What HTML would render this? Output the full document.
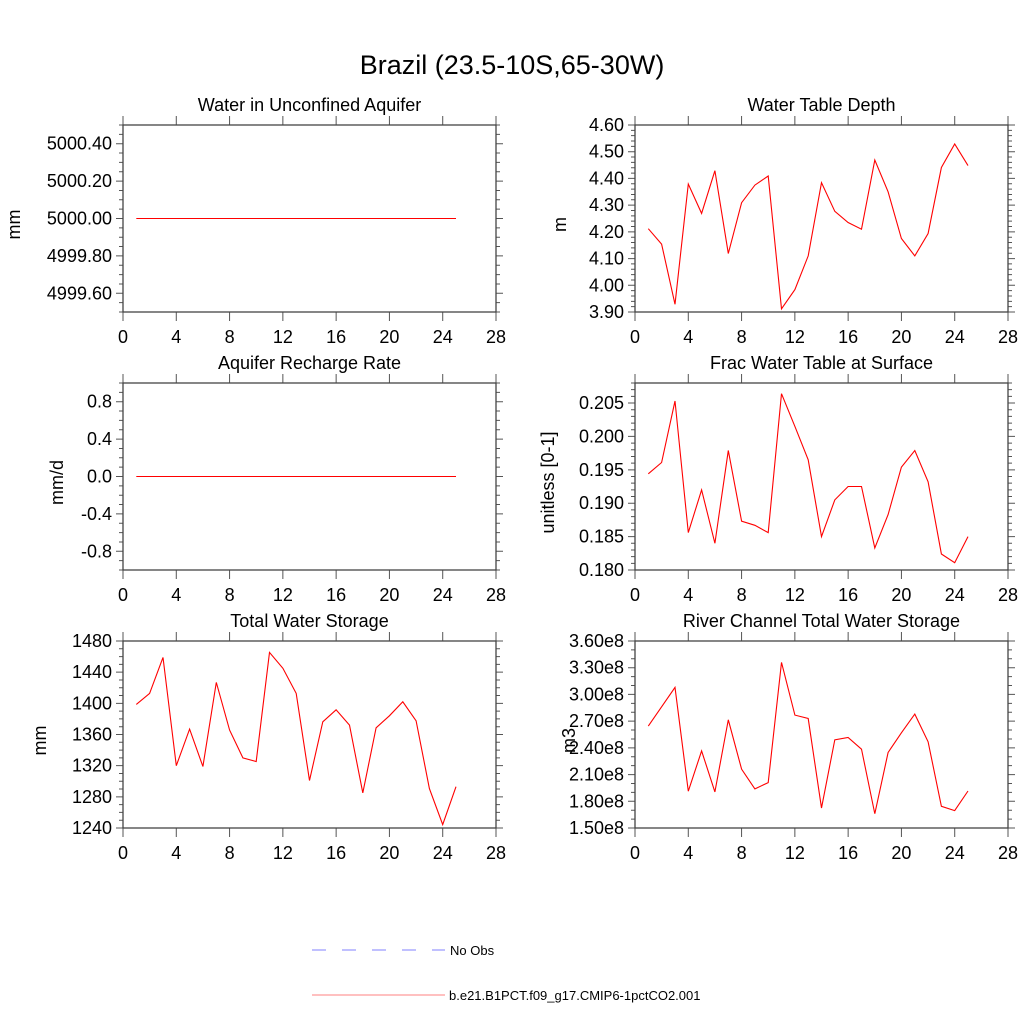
<!DOCTYPE html>
<html><head><meta charset="utf-8"><style>
html,body{margin:0;padding:0;background:#fff;}
svg{display:block;font-family:"Liberation Sans",Arial,sans-serif;}
</style></head><body>
<svg id="fig" width="1024" height="1024" viewBox="0 0 1024 1024" xmlns="http://www.w3.org/2000/svg">
<rect width="1024" height="1024" fill="#fff"/>
<text x="512" y="74" font-size="27" text-anchor="middle" fill="#000">Brazil (23.5-10S,65-30W)</text>
<g>
<line x1="312" y1="950" x2="445" y2="950" stroke="#8080ff" stroke-width="1" stroke-dasharray="14,16"/>
<text x="450" y="955" font-size="13" fill="#000">No Obs</text>
<line x1="312" y1="995" x2="445" y2="995" stroke="#ff8080" stroke-width="1"/>
<text x="449" y="1000" font-size="13" fill="#000">b.e21.B1PCT.f09_g17.CMIP6-1pctCO2.001</text>
</g>
</svg>
<script>
const years = [1,2,3,4,5,6,7,8,9,10,11,12,13,14,15,16,17,18,19,20,21,22,23,24,25];
const xTicks = [0,4,8,12,16,20,24,28];
const aquiferWater = [5000,5000,5000,5000,5000,5000,5000,5000,5000,5000,5000,5000,5000,5000,5000,5000,5000,5000,5000,5000,5000,5000,5000,5000,5000];
const aquiferTicks = [4999.6,4999.8,5000.0,5000.2,5000.4];
const aquiferLabels = ["4999.60","4999.80","5000.00","5000.20","5000.40"];
const waterTableDepth = [4.212,4.154,3.929,4.379,4.269,4.429,4.119,4.309,4.375,4.409,3.912,3.984,4.11,4.384,4.277,4.235,4.21,4.469,4.35,4.175,4.11,4.194,4.441,4.529,4.448];
const wtdTicks = [3.9,4.0,4.1,4.2,4.3,4.4,4.5,4.6];
const wtdLabels = ["3.90","4.00","4.10","4.20","4.30","4.40","4.50","4.60"];
const rechargeRate = [0,0,0,0,0,0,0,0,0,0,0,0,0,0,0,0,0,0,0,0,0,0,0,0,0];
const rechargeTicks = [-0.8,-0.4,0.0,0.4,0.8];
const rechargeLabels = ["-0.8","-0.4","0.0","0.4","0.8"];
const fracWaterTable = [0.1944,0.1961,0.2053,0.1856,0.192,0.184,0.1979,0.1873,0.1867,0.1856,0.2064,0.2015,0.1965,0.185,0.1905,0.1925,0.1925,0.1833,0.1883,0.1954,0.1979,0.1932,0.1824,0.1811,0.185];
const fracTicks = [0.180,0.185,0.190,0.195,0.200,0.205];
const fracLabels = ["0.180","0.185","0.190","0.195","0.200","0.205"];
const totalWaterStorage = [1398.6,1412.7,1459,1320,1366.9,1318.9,1426.9,1365.6,1330,1325.3,1465.4,1444.9,1412.7,1300.9,1376.3,1391.7,1372,1285,1368.6,1384,1402,1377.6,1290.6,1244.3,1293];
const twsTicks = [1240,1280,1320,1360,1400,1440,1480];
const twsLabels = ["1240","1280","1320","1360","1400","1440","1480"];
const riverStorage = [2.644,2.861,3.079,1.913,2.366,1.905,2.715,2.16,1.939,2.01,3.36,2.768,2.73,1.725,2.49,2.516,2.385,1.661,2.348,2.569,2.779,2.468,1.744,1.695,1.916];
const riverTicks = [1.5,1.8,2.1,2.4,2.7,3.0,3.3,3.6];
const riverLabels = ["1.50e8","1.80e8","2.10e8","2.40e8","2.70e8","3.00e8","3.30e8","3.60e8"];

const NS = "http://www.w3.org/2000/svg";
const svg = document.getElementById('fig');
function mk(tag, attrs, parent){
  const e = document.createElementNS(NS, tag);
  for (const k in attrs) e.setAttribute(k, attrs[k]);
  parent.appendChild(e);
  return e;
}
const panels = [
  {name:'water-in-unconfined-aquifer', title:'Water in Unconfined Aquifer', unit:'mm', x0:123, y0:125, data:aquiferWater, ymin:4999.5, ymax:5000.5, ticks:aquiferTicks, labels:aquiferLabels, minor:0.05, ulx:14},
  {name:'water-table-depth', title:'Water Table Depth', unit:'m', x0:635, y0:125, data:waterTableDepth, ymin:3.9, ymax:4.6, ticks:wtdTicks, labels:wtdLabels, minor:0.02, ulx:560},
  {name:'aquifer-recharge-rate', title:'Aquifer Recharge Rate', unit:'mm/d', x0:123, y0:383, data:rechargeRate, ymin:-1, ymax:1, ticks:rechargeTicks, labels:rechargeLabels, minor:0.1, ulx:57},
  {name:'frac-water-table-at-surface', title:'Frac Water Table at Surface', unit:'unitless [0-1]', x0:635, y0:383, data:fracWaterTable, ymin:0.18, ymax:0.208, ticks:fracTicks, labels:fracLabels, minor:0.001, ulx:548},
  {name:'total-water-storage', title:'Total Water Storage', unit:'mm', x0:123, y0:641, data:totalWaterStorage, ymin:1240, ymax:1480, ticks:twsTicks, labels:twsLabels, minor:10, ulx:40},
  {name:'river-channel-total-water-storage', title:'River Channel Total Water Storage', unit:'m3', x0:635, y0:641, data:riverStorage, ymin:1.5, ymax:3.6, ticks:riverTicks, labels:riverLabels, minor:0.1, ulx:569}
];
const W = 373, H = 187;
panels.forEach(p => {
  const g = mk('g', {}, svg);
  
  
  const sx = v => p.x0 + (v - 0) / 28 * W;
  const sy = v => p.y0 + H - (v - p.ymin) / (p.ymax - p.ymin) * H;
  const t = mk('text', {x: p.x0 + W/2, y: p.y0 - 14, 'font-size': 18, 'text-anchor': 'middle', fill: '#000'}, g);
  t.textContent = p.title;
  
  
  const u = mk('text', {x: p.ulx, y: p.y0 + H/2, 'font-size': 18, 'text-anchor': 'middle', fill: '#000', transform: 'rotate(-90 ' + (p.ulx+6) + ' ' + (p.y0 + H/2) + ')'}, g);
  u.textContent = p.unit;
  
  
  let path = '';
  // minor y ticks
  const n = Math.round((p.ymax - p.ymin) / p.minor);
  for (let i = 0; i <= n; i++) {
    const yy = sy(p.ymin + i * p.minor);
    path += 'M' + (p.x0 - 4) + ' ' + yy + 'H' + p.x0 + 'M' + (p.x0 + W) + ' ' + yy + 'H' + (p.x0 + W + 4);
  }
  p.ticks.forEach((v, i) => {
    const yy = sy(v);
    path += 'M' + (p.x0 - 7) + ' ' + yy + 'H' + p.x0 + 'M' + (p.x0 + W) + ' ' + yy + 'H' + (p.x0 + W + 7);
    const lb = mk('text', {x: p.x0 - 11, y: yy + 6, 'font-size': 18, 'text-anchor': 'end', fill: '#000'}, g);
    lb.textContent = p.labels[i];
    
    
  });
  xTicks.forEach(v => {
    const xx = sx(v);
    path += 'M' + xx + ' ' + (p.y0 - 9) + 'V' + p.y0 + 'M' + xx + ' ' + (p.y0 + H) + 'V' + (p.y0 + H + 9);
    const lb = mk('text', {x: xx, y: p.y0 + H + 31, 'font-size': 18, 'text-anchor': 'middle', fill: '#000'}, g);
    lb.textContent = String(v);
    
    
  });
  const tk = mk('path', {d: path, stroke: '#555', 'stroke-width': 1, fill: 'none'}, g);
  
  
  const fr = mk('rect', {x: p.x0, y: p.y0, width: W, height: H, fill: 'none', stroke: '#444', 'stroke-width': 1.3}, g);
  
  
  const pts = years.map((yr, i) => sx(yr).toFixed(1) + ',' + sy(p.data[i]).toFixed(1)).join(' ');
  const ln = mk('polyline', {points: pts, fill: 'none', stroke: '#ff0000', 'stroke-width': 1.1}, g);
  
  
});
</script>
</body></html>
